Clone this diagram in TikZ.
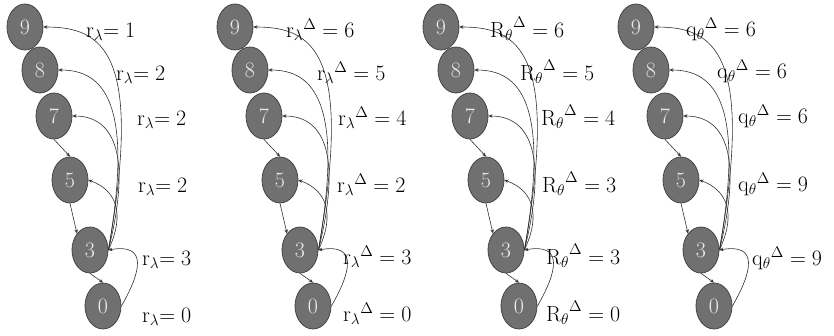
\RequirePackage{fix-cm}
\documentclass[tikz,border=0pt]{standalone}
\usetikzlibrary{shapes.geometric,arrows.meta}
\definecolor{nodefill}{HTML}{707070}
\definecolor{nodeline}{HTML}{454545}
\definecolor{edgecol}{HTML}{303030}
\tikzset{
 st/.style={ellipse,draw=nodeline,fill=nodefill,line width=0.8pt,minimum width=36pt,minimum height=46pt,inner sep=0pt,text=white!92!black,font=\fontsize{22}{24}\selectfont},
 edge/.style={draw=edgecol,line width=0.6pt,-{Stealth[length=4pt,width=3.5pt]}},
 lab/.style={anchor=base west,inner sep=0pt,font=\fontsize{22}{24}\selectfont},
}
\newcommand\mypanel[2]{%
 \begin{scope}[xshift=#1pt]
 \node[st] (#2n9) at (25,-27) {9};
 \node[st] (#2n8) at (40,-70) {8};
 \node[st] (#2n7) at (54,-116) {7};
 \node[st] (#2n5) at (70,-180) {5};
 \node[st] (#2n3) at (90,-250) {3};
 \node[st] (#2n0) at (103,-306) {0};
 \draw[edge] (#2n7.south) -- (#2n5.north);
 \draw[edge] (#2n5.south) -- (#2n3.north west);
 \draw[edge] (#2n3.south) -- (#2n0.north);
 \draw[edge] (#2n3.east) to[out=80,in=0,out distance=200pt,in distance=60pt] (#2n9.east);
 \draw[edge] (#2n3.east) to[out=80,in=0,out distance=150pt,in distance=45pt] (#2n8.east);
 \draw[edge] (#2n3.east) to[out=76,in=0,out distance=105pt,in distance=38pt] (#2n7.east);
 \draw[edge] (#2n3.east) to[out=65,in=-20,out distance=40pt,in distance=30pt] (#2n5.east);
 \draw[edge] (#2n0.east) to[out=60,in=10,out distance=40pt,in distance=40pt] (#2n3.east);
 \end{scope}}
\begin{document}
\begin{tikzpicture}[x=1pt,y=1pt]
\fill[white] (0,0) rectangle (834,-335);
\useasboundingbox (0,0) rectangle (834,-335);
\mypanel{0}{a}
\mypanel{210}{b}
\mypanel{416}{c}
\mypanel{611}{d}
% panel 1 labels
\node[lab] (la1) at (86,-37) {$\mathrm{r}_{\lambda}{=}\;1$};
\node[lab] (la2) at (116,-80) {$\mathrm{r}_{\lambda}{=}\;2$};
\node[lab] (la3) at (137,-125) {$\mathrm{r}_{\lambda}{=}\;2$};
\node[lab] (la4) at (138,-192) {$\mathrm{r}_{\lambda}{=}\;2$};
\node[lab] (la5) at (142,-265) {$\mathrm{r}_{\lambda}{=}\;3$};
\node[lab] (la6) at (142,-322) {$\mathrm{r}_{\lambda}{=}\;0$};
% panel 2 labels
\node[lab] (lb1) at (286,-37) {${\mathrm{r}_{\lambda}}^{\Delta}=6$};
\node[lab] (lb2) at (317,-80) {${\mathrm{r}_{\lambda}}^{\Delta}=5$};
\node[lab] (lb3) at (338,-125) {${\mathrm{r}_{\lambda}}^{\Delta}=4$};
\node[lab] (lb4) at (337,-192) {${\mathrm{r}_{\lambda}}^{\Delta}=2$};
\node[lab] (lb5) at (343,-264) {${\mathrm{r}_{\lambda}}^{\Delta}=3$};
\node[lab] (lb6) at (343,-321) {${\mathrm{r}_{\lambda}}^{\Delta}=0$};
% panel 3 labels
\node[lab] (lc1) at (490,-37) {${\mathrm{R}_{\theta}}^{\Delta}=6$};
\node[lab] (lc2) at (520,-80) {${\mathrm{R}_{\theta}}^{\Delta}=5$};
\node[lab] (lc3) at (541,-125) {${\mathrm{R}_{\theta}}^{\Delta}=4$};
\node[lab] (lc4) at (542,-192) {${\mathrm{R}_{\theta}}^{\Delta}=3$};
\node[lab] (lc5) at (546,-264) {${\mathrm{R}_{\theta}}^{\Delta}=3$};
\node[lab] (lc6) at (546,-321) {${\mathrm{R}_{\theta}}^{\Delta}=0$};
% panel 4 labels
\node[lab] (ld1) at (686,-36) {${\mathrm{q}_{\theta}}^{\Delta}=6$};
\node[lab] (ld2) at (717,-78) {${\mathrm{q}_{\theta}}^{\Delta}=6$};
\node[lab] (ld3) at (738,-123) {${\mathrm{q}_{\theta}}^{\Delta}=6$};
\node[lab] (ld4) at (738,-191) {${\mathrm{q}_{\theta}}^{\Delta}=9$};
\node[lab] (ld5) at (752,-265) {${\mathrm{q}_{\theta}}^{\Delta}=9$};
\end{tikzpicture}
\end{document}
